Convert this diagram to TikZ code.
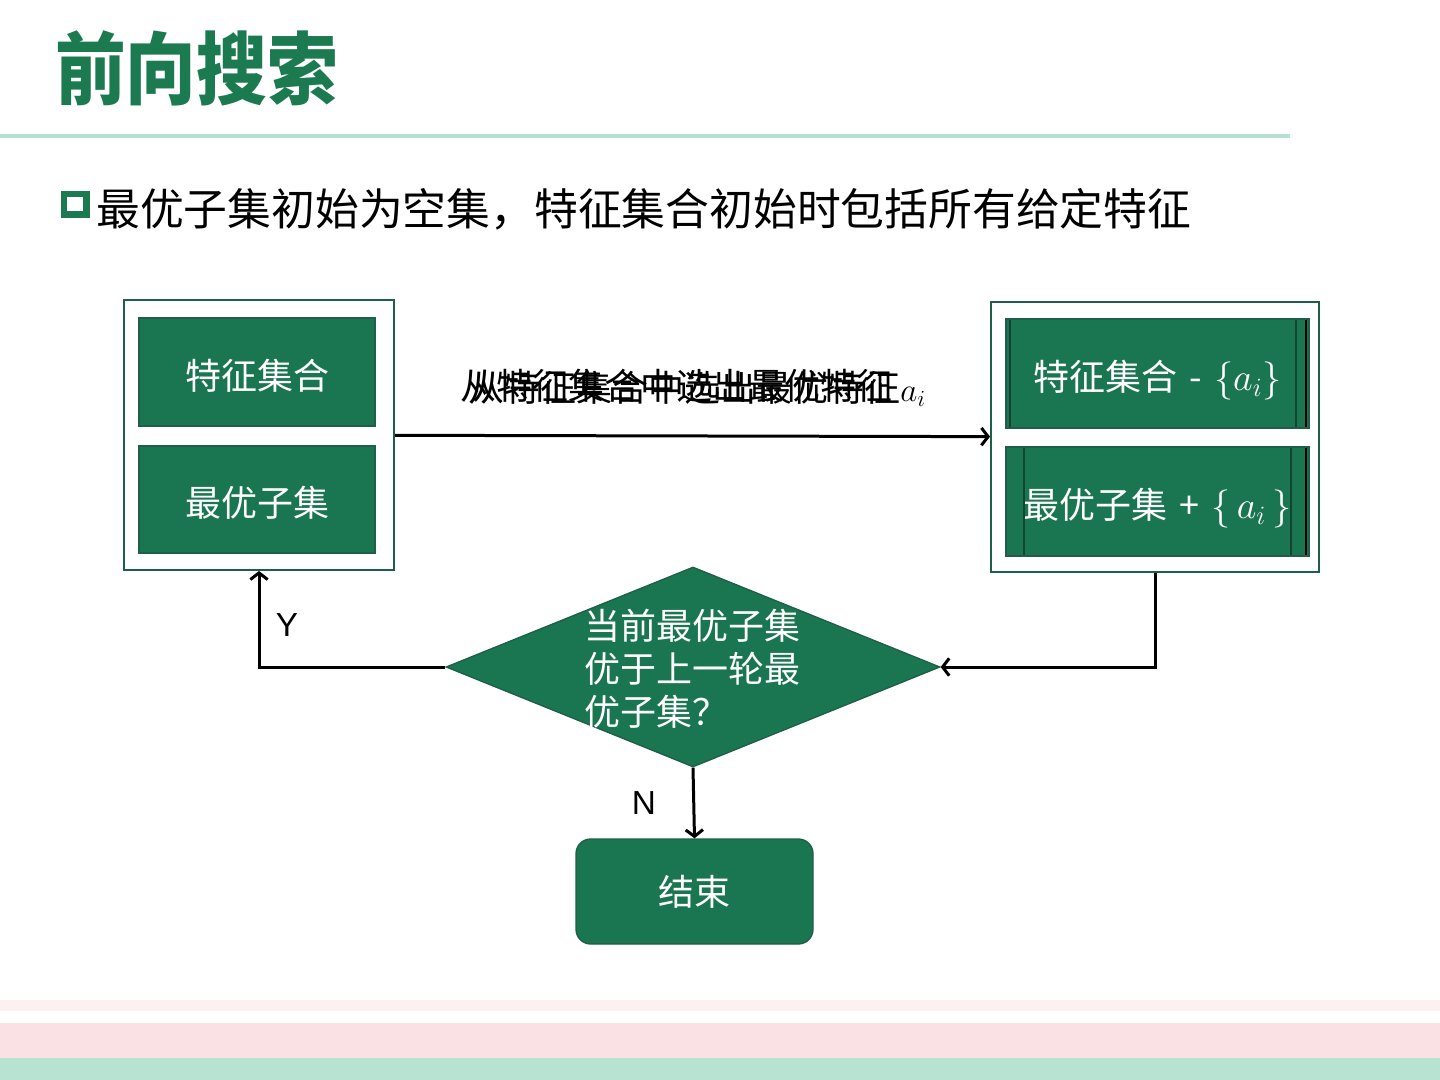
\documentclass[tikz,border=0pt]{standalone}
\usepackage{fontspec}
\setsansfont{Liberation Sans}
\newfontfamily\cjk{Noto Sans CJK SC}
\usetikzlibrary{shapes.geometric,arrows.meta}
\definecolor{gfill}{HTML}{1A7650}
\definecolor{gline}{HTML}{1F5E48}
\definecolor{titlegreen}{HTML}{1C7A50}
\definecolor{rulegreen}{HTML}{B6E1D0}
\definecolor{pinkband}{HTML}{FAE2E4}
\definecolor{pinklight}{HTML}{FCF0F1}
\definecolor{mintband}{HTML}{B8E2D1}
\tikzset{
  outerbox/.style={draw=gline, line width=1.5pt, fill=white, inner sep=0pt},
  innerbox/.style={draw=gline, line width=1.2pt, fill=gfill, text=white, inner sep=0pt,
    text height=29pt, text depth=3pt,
    font=\cjk\fontsize{27}{32}\selectfont},
  arr/.style={draw=black, line width=2.25pt, -{Straight Barb[length=5pt,width=13pt]}},
  yn/.style={font=\sffamily\fontsize{25}{30}\selectfont, text=black},
  lbl/.style={font=\cjk\fontsize{27}{32}\selectfont, text=black, inner sep=0pt, anchor=west}
}
\newcommand{\bigmath}[1]{\scalebox{1.15}{$#1$}}
\begin{document}
\begin{tikzpicture}[x=0.75pt,y=-0.75pt]
\useasboundingbox (0,0) rectangle (1440,1080);
% title
\node[anchor=west, text=titlegreen, font=\cjk\bfseries\fontsize{53}{60}\selectfont, inner sep=0pt] (T) at (55,68) {\scalebox{1}[1.12]{前向搜索}};
\draw[rulegreen, line width=2.4pt] (0,136) -- (1290,136);
% bullet
\draw[titlegreen, line width=5.2pt] (64,194) rectangle (86.5,214.5);
\node[anchor=west, font=\cjk\fontsize{32.85}{40}\selectfont, inner sep=0pt] (B) at (96,209) {最优子集初始为空集，特征集合初始时包括所有给定特征};
% left box
\node[outerbox, minimum width=202.5pt, minimum height=202.5pt] (L) at (259,435) {};
\node[innerbox, minimum width=177pt, minimum height=81pt] (L1) at (257,372) {特征集合};
\node[innerbox, minimum width=177pt, minimum height=80.25pt] (L2) at (257,499.5) {最优子集};
% right box
\node[outerbox, minimum width=246pt, minimum height=202.5pt] (R) at (1155,437) {};
\node[innerbox, minimum width=227.25pt, minimum height=81.75pt] (R1) at (1157.5,373.5) {特征集合\hspace{9pt}-\hspace{9pt}\bigmath{\{a_i\}}\hspace{18pt}};
\node[innerbox, minimum width=227.25pt, minimum height=81.75pt] (R2) at (1157.5,501.5) {最优子集\hspace{9pt}+\hspace{9pt}\bigmath{\{\,a_i\,\}}};
\draw[gline!70!black, line width=0.8pt] (1010,320) -- (1010,427) (1296,320) -- (1296,427);
\draw[black, line width=1.5pt] (1306,320) -- (1306,427);
\draw[gline!70!black, line width=0.8pt] (1024,448) -- (1024,555) (1291,448) -- (1291,555);
\draw[black, line width=1.5pt] (1306,448) -- (1306,555);
% diamond
\node[diamond, draw=gline, line width=1pt, fill=gfill, inner sep=0pt, minimum width=370.5pt, minimum height=150pt] (D) at (693,667) {};
\node[anchor=west, align=left, text=white, inner sep=0pt, font=\cjk\fontsize{27}{32.2}\selectfont] (Dt) at (584,669) {当前最优子集\\优于上一轮最\\优子集？};
% end
\node[draw=gline, line width=1pt, fill=gfill, rounded corners=11pt, text=white, minimum width=177.75pt, minimum height=78.75pt, font=\cjk\fontsize{27}{32}\selectfont] (E) at (694.5,891.5) {结束};
% connectors
\draw[arr] (L) -- (R);
\node[lbl] (A1) at (460,386) {从特征集合中选出最优特征};
\node[lbl] (A2) at (468,389) {从特征集合中选出最优特征$a_i$};
\draw[arr] (D.west) -| (L.south);
\draw[arr] (R.south) |- (D.east);
\draw[arr] (D.south) -- (E.north);
\node[yn] (Y) at (287,625) {Y};
\node[yn] (N) at (644,803) {N};
% bottom bands
\fill[pinklight] (0,1000) rectangle (1440,1011);
\fill[pinkband] (0,1023) rectangle (1440,1058);
\fill[mintband] (0,1058) rectangle (1440,1080);
\end{tikzpicture}
\end{document}
